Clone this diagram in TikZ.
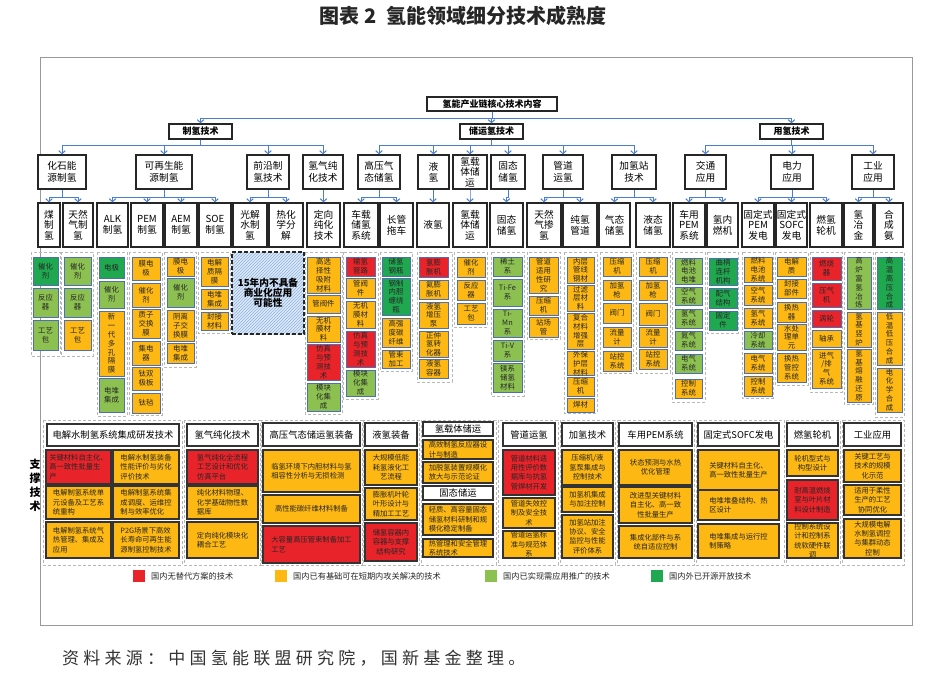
\documentclass[tikz,border=0pt]{standalone}
\usepackage{fontspec}
\setmainfont{Noto Sans CJK SC}
\usetikzlibrary{arrows.meta,patterns}
\definecolor{cR}{HTML}{E8242A}
\definecolor{cO}{HTML}{FDB813}
\definecolor{cG}{HTML}{8CC152}
\definecolor{cD}{HTML}{1FA84F}
\definecolor{cB}{HTML}{4E6FB5}
\definecolor{lnB}{HTML}{4A7DCB}
\definecolor{hatchbg}{HTML}{DCE8F5}
\definecolor{hatchln}{HTML}{8DB3E2}
\newcommand\bxx[7]{\node[#6,minimum width={#4-#2},minimum height={#5-#3}] (#1) at ({(#2+#4)/2},{(#3+#5)/2}) {#7};}
\newcommand\frm[4]{\draw[fr] (#1,#2) rectangle (#3,#4);}
\tikzset{
 lv/.style={draw=black!85,line width=1.3pt,fill=white,align=center,inner sep=0pt,font=\fontsize{9.7}{10.6}\selectfont},
 lt/.style={lv,font=\fontsize{9.7}{11.5}\selectfont},
 hd/.style={lv,font=\bfseries\fontsize{9}{11}\selectfont},
 ar/.style={draw=lnB,line width=1pt,-{Straight Barb[length=3pt,width=6.5pt]}},
 cl/.style={draw=cB,line width=0.9pt,align=center,inner sep=0pt,text=black!85,font=\fontsize{7.4}{8.8}\selectfont},
 cr/.style={cl,fill=cR}, co/.style={cl,fill=cO}, cg/.style={cl,fill=cG}, cd/.style={cl,fill=cD},
 fr/.style={draw=black!28,line width=0.9pt,dash pattern=on 3pt off 2pt},
 bc/.style={draw=black!80,line width=1.1pt,inner sep=0pt,text=black!85,font=\fontsize{7.3}{9.4}\selectfont},
 br/.style={bc,fill=cR,align=left}, bo/.style={bc,fill=cO,align=left},
 brc/.style={bc,fill=cR,align=center}, boc/.style={bc,fill=cO,align=center},
 bh/.style={draw=black!80,line width=1.1pt,fill=white,inner sep=0pt,font=\fontsize{9.3}{11}\selectfont},
 lgsq/.style={minimum width=12,minimum height=12,inner sep=0pt,draw=none},
 lgt/.style={anchor=west,inner sep=0pt,font=\fontsize{8.2}{10}\selectfont,text=black!85},
}
\begin{document}
\begin{tikzpicture}[x=1pt,y=-1pt]
\useasboundingbox (0,0) rectangle (928,680);
\fill[white] (0,0) rectangle (928,680);
\node[font=\bfseries\fontsize{20}{22}\selectfont,text=black!85] (title) at (463,16) {图表 2\hspace{0.5em}氢能领域细分技术成熟度};
\draw[black!40,line width=0.8pt] (40,57) rectangle (912,625);
\node[anchor=west,inner sep=0pt,font=\fontsize{17}{20}\selectfont\addfontfeature{LetterSpace=25},text=black!80] (src) at (62,658) {资料来源：中国氢能联盟研究院，国新基金整理。};

% ---------- top levels
\bxx{root}{427}{97}{557}{111}{hd}{氢能产业链核心技术内容}
\bxx{zq}{169}{124}{232}{139}{hd}{制氢技术}
\bxx{cy}{460}{124}{523}{139}{hd}{储运氢技术}
\bxx{yq}{760}{124}{823}{139}{hd}{用氢技术}
\draw[ar] (root.south) -- ++(0,7) -| (zq.north);
\draw[ar] (root.south) -- ++(0,7) -| (cy.north);
\draw[ar] (root.south) -- ++(0,7) -| (yq.north);

% ---------- level 2
\bxx{p1}{38}{155}{86}{189}{lt}{化石能\\源制氢}
\bxx{p2}{136}{155}{192}{189}{lt}{可再生能\\源制氢}
\bxx{p3}{247}{155}{289}{189}{lt}{前沿制\\氢技术}
\bxx{p4}{303}{155}{343}{189}{lt}{氢气纯\\化技术}
\bxx{p5}{358}{155}{400}{189}{lt}{高压气\\态储氢}
\bxx{p6}{418}{155}{449}{189}{lt}{液\\氢}
\bxx{p7}{453}{155}{487}{189}{lv}{氢载\\体储\\运}
\bxx{p8}{491}{155}{525}{189}{lt}{固态\\储氢}
\bxx{p9}{543}{155}{583}{189}{lt}{管道\\运氢}
\bxx{p10}{612}{155}{656}{189}{lt}{加氢站\\技术}
\bxx{p11}{685}{155}{726}{189}{lt}{交通\\应用}
\bxx{p12}{771}{155}{813}{189}{lt}{电力\\应用}
\bxx{p13}{852}{155}{894}{189}{lt}{工业\\应用}
\foreach \c in {p1,p2,p3,p4} \draw[ar] (zq.south) -- ++(0,6) -| (\c.north);
\foreach \c in {p5,p6,p7,p8,p9,p10} \draw[ar] (cy.south) -- ++(0,6) -| (\c.north);
\foreach \c in {p11,p12,p13} \draw[ar] (yq.south) -- ++(0,6) -| (\c.north);

% ---------- level 3
\bxx{q1}{38}{203}{60}{247}{lv}{煤\\制\\氢}
\bxx{q2}{63}{203}{93}{247}{lv}{天然\\气制\\氢}
\bxx{q3}{97}{203}{128}{247}{lv}{ALK\\制氢}
\bxx{q4}{131}{203}{163}{247}{lv}{PEM\\制氢}
\bxx{q5}{165}{203}{197}{247}{lv}{AEM\\制氢}
\bxx{q6}{199}{203}{231}{247}{lv}{SOE\\制氢}
\bxx{q7}{233}{203}{267}{247}{lv}{光解\\水制\\氢}
\bxx{q8}{269}{203}{303}{247}{lv}{热化\\学分\\解}
\bxx{q9}{307}{203}{340}{247}{lv}{定向\\纯化\\技术}
\bxx{q10}{344}{203}{378}{247}{lv}{车载\\储氢\\系统}
\bxx{q11}{380}{203}{413}{247}{lv}{长管\\拖车}
\bxx{q12}{417}{203}{449}{247}{lv}{液氢}
\bxx{q13}{453}{203}{487}{247}{lv}{氢载\\体储\\运}
\bxx{q14}{490}{203}{523}{247}{lv}{固态\\储氢}
\bxx{q15}{527}{203}{561}{247}{lv}{天然\\气掺\\氢}
\bxx{q16}{563}{203}{597}{247}{lv}{纯氢\\管道}
\bxx{q17}{599}{203}{630}{247}{lv}{气态\\储氢}
\bxx{q18}{636}{203}{670}{247}{lv}{液态\\储氢}
\bxx{q19}{673}{203}{705}{247}{lv}{车用\\PEM\\系统}
\bxx{q20}{707}{203}{738}{247}{lv}{氢内\\燃机}
\bxx{q21}{742}{203}{774}{247}{lv}{固定式\\PEM\\发电}
\bxx{q22}{776}{203}{807}{247}{lv}{固定式\\SOFC\\发电}
\bxx{q23}{810}{203}{842}{247}{lv}{燃氢\\轮机}
\bxx{q24}{844}{203}{873}{247}{lv}{氢\\冶\\金}
\bxx{q25}{875}{203}{903}{247}{lv}{合\\成\\氨}
\foreach \p/\c in {p1/q1,p1/q2,p2/q3,p2/q4,p2/q5,p2/q6,p3/q7,p3/q8,p4/q9,p5/q10,p5/q11,p6/q12,p7/q13,p8/q14,p9/q15,p9/q16,p10/q17,p10/q18,p11/q19,p11/q20,p12/q21,p12/q22,p12/q23,p13/q24,p13/q25}
  \draw[ar] (\p.south) -- ++(0,8) -| (\c.north);

% ---------- detail columns
\frm{31}{252}{60}{356}
\bxx{a1}{33}{257}{58}{285}{cd}{催化\\剂}
\bxx{a2}{33}{288}{58}{317}{cg}{反应\\器}
\bxx{a3}{33}{320}{58}{350}{cg}{工艺\\包}
\frm{61}{252}{93}{356}
\bxx{b1}{64}{257}{91}{285}{cg}{催化\\剂}
\bxx{b2}{64}{288}{91}{317}{cg}{反应\\器}
\bxx{b3}{64}{320}{91}{350}{co}{工艺\\包}
\frm{97}{252}{127}{416}
\bxx{c1}{99}{257}{124}{278}{cd}{电极}
\bxx{c2}{99}{281}{124}{308}{cg}{催化\\剂}
\bxx{c3}{99}{311}{124}{376}{co}{新\\一\\代\\多\\孔\\隔\\膜}
\bxx{c4}{99}{378}{124}{412}{cg}{电堆\\集成}
\frm{129}{252}{162}{415}
\bxx{d1}{132}{257}{160}{280}{co}{膜电\\极}
\bxx{d2}{132}{283}{160}{307}{co}{催化\\剂}
\bxx{d3}{132}{309}{160}{338}{co}{质子\\交换\\膜}
\bxx{d4}{132}{341}{160}{365}{co}{集电\\器}
\bxx{d5}{132}{367}{160}{390}{co}{钛双\\极板}
\bxx{d6}{132}{393}{160}{413}{co}{钛毡}
\frm{164}{252}{196}{367}
\bxx{e1}{167}{257}{194}{276}{co}{膜电\\极}
\bxx{e2}{167}{278}{194}{307}{cg}{催化\\剂}
\bxx{e3}{167}{310}{194}{341}{co}{阴离\\子交\\换膜}
\bxx{e4}{167}{343}{194}{363}{co}{电堆\\集成}
\frm{198}{252}{230}{333}
\bxx{f1}{201}{257}{228}{286}{co}{电解\\质隔\\膜}
\bxx{f2}{201}{289}{228}{309}{co}{电堆\\集成}
\bxx{f3}{201}{312}{228}{330}{co}{封接\\材料}
\node[draw=black!85,line width=1.4pt,dash pattern=on 4pt off 2pt,preaction={fill=hatchbg},pattern=north east lines,pattern color=hatchln,minimum width=72,minimum height=82,inner sep=0pt,align=center,font=\bfseries\fontsize{9.7}{10.2}\selectfont] (hatch) at (268,293) {15年内不具备\\商业化应用\\可能性};
\frm{305}{252}{342}{414}
\bxx{g1}{307}{257}{340}{293}{co}{高选\\择性\\吸附\\材料}
\bxx{g2}{307}{295}{340}{313}{co}{管阀件}
\bxx{g3}{307}{316}{340}{342}{co}{无机\\膜材\\料}
\bxx{g4}{307}{344}{340}{380}{cr}{仿真\\与预\\测技\\术}
\bxx{g5}{307}{383}{340}{411}{cg}{模块\\化集\\成}
\frm{343}{252}{378}{399}
\bxx{h1}{346}{257}{375}{276}{cr}{输氢\\管路}
\bxx{h2}{346}{278}{375}{298}{co}{管阀\\件}
\bxx{h3}{346}{301}{375}{328}{co}{无机\\膜材\\料}
\bxx{h4}{346}{331}{375}{367}{cr}{仿真\\与预\\测技\\术}
\bxx{h5}{346}{370}{375}{396}{cg}{模块\\化集\\成}
\frm{380}{252}{412}{371}
\bxx{i1}{382}{257}{410}{276}{cd}{储氢\\钢瓶}
\bxx{i2}{382}{278}{410}{315}{cd}{钢制\\内胆\\缠绕\\瓶}
\bxx{i3}{382}{318}{410}{347}{co}{高强\\度碳\\纤维}
\bxx{i4}{382}{350}{410}{368}{co}{管束\\加工}
\frm{417}{252}{452}{382}
\bxx{j1}{419}{257}{448}{277}{cr}{氢膨\\胀机}
\bxx{j2}{419}{280}{448}{299}{co}{氦膨\\胀机}
\bxx{j3}{419}{302}{448}{328}{co}{液氢\\增压\\泵}
\bxx{j4}{419}{331}{448}{357}{co}{正仲\\氢转\\化器}
\bxx{j5}{419}{359}{448}{378}{co}{液氢\\容器}
\frm{454}{252}{487}{327}
\bxx{k1}{457}{257}{485}{277}{co}{催化\\剂}
\bxx{k2}{457}{280}{485}{300}{co}{反应\\器}
\bxx{k3}{457}{303}{485}{324}{co}{工艺\\包}
\frm{491}{252}{524}{396}
\bxx{l1}{493}{257}{522}{276}{cg}{稀土\\系}
\bxx{l2}{493}{279}{522}{306}{cg}{Ti-Fe\\系}
\bxx{l3}{493}{309}{522}{337}{cg}{Ti-\\Mn\\系}
\bxx{l4}{493}{340}{522}{361}{cg}{Ti-V\\系}
\bxx{l5}{493}{363}{522}{392}{cg}{镁系\\储氢\\材料}
\frm{527}{252}{560}{339}
\bxx{m1}{529}{257}{558}{293}{co}{管道\\适用\\性研\\究}
\bxx{m2}{529}{296}{558}{315}{co}{压缩\\机}
\bxx{m3}{529}{317}{558}{337}{co}{站场\\管}
\frm{564}{252}{597}{413}
\bxx{n1}{567}{257}{594}{283}{co}{内层\\管线\\钢材}
\bxx{n2}{567}{285}{594}{311}{co}{过滤\\层材\\料}
\bxx{n3}{567}{313}{594}{349}{co}{复合\\材料\\增强\\层}
\bxx{n4}{567}{352}{594}{375}{co}{外保\\护层\\材料}
\bxx{n5}{567}{377}{594}{396}{co}{压缩\\机}
\bxx{n6}{567}{398}{594}{412}{co}{焊材}
\frm{600}{252}{633}{373}
\bxx{o1}{603}{257}{631}{276}{co}{压缩\\机}
\bxx{o2}{603}{280}{631}{300}{co}{加氢\\枪}
\bxx{o3}{603}{303}{631}{323}{co}{阀门}
\bxx{o4}{603}{327}{631}{347}{co}{流量\\计}
\bxx{o5}{603}{351}{631}{371}{co}{站控\\系统}
\frm{636}{252}{670}{373}
\bxx{r1}{639}{257}{667}{276}{co}{压缩\\机}
\bxx{r2}{639}{280}{667}{300}{co}{加氢\\枪}
\bxx{r3}{639}{303}{667}{325}{co}{阀门}
\bxx{r4}{639}{327}{667}{347}{co}{流量\\计}
\bxx{r5}{639}{349}{667}{369}{co}{站控\\系统}
\frm{672}{252}{705}{402}
\bxx{s1}{675}{258}{702}{284}{cg}{燃料\\电池\\电堆}
\bxx{s2}{675}{287}{702}{305}{cg}{空气\\系统}
\bxx{s3}{675}{309}{702}{328}{cg}{氢气\\系统}
\bxx{s4}{675}{331}{702}{350}{cg}{氮气\\系统}
\bxx{s5}{675}{354}{702}{373}{cg}{电气\\系统}
\bxx{s6}{675}{379}{702}{398}{co}{控制\\系统}
\frm{707}{252}{738}{333}
\bxx{t1}{709}{258}{737}{285}{cd}{曲柄\\连杆\\机构}
\bxx{t2}{709}{288}{737}{308}{cd}{配气\\结构}
\bxx{t3}{709}{311}{737}{330}{cd}{固定\\件}
\frm{742}{252}{773}{398}
\bxx{u1}{744}{257}{772}{282}{co}{燃料\\电池\\系统}
\bxx{u2}{744}{285}{772}{305}{co}{空气\\系统}
\bxx{u3}{744}{308}{772}{328}{co}{氢气\\系统}
\bxx{u4}{744}{331}{772}{349}{cg}{冷却\\系统}
\bxx{u5}{744}{353}{772}{373}{co}{电气\\系统}
\bxx{u6}{744}{376}{772}{396}{co}{控制\\系统}
\frm{775}{252}{808}{385}
\bxx{v1}{777}{257}{806}{276}{co}{电解\\质}
\bxx{v2}{777}{279}{806}{298}{co}{封接\\部件}
\bxx{v3}{777}{302}{806}{322}{co}{换热\\器}
\bxx{v4}{777}{324}{806}{350}{co}{水处\\理单\\元}
\bxx{v5}{777}{353}{806}{382}{co}{换热\\管控\\系统}
\frm{810}{252}{842}{392}
\bxx{w1}{812}{257}{841}{280}{cr}{燃烧\\器}
\bxx{w2}{812}{283}{841}{307}{cr}{压气\\机}
\bxx{w3}{812}{310}{841}{327}{cr}{涡轮}
\bxx{w4}{812}{330}{841}{347}{co}{轴承}
\bxx{w5}{812}{349}{841}{388}{co}{进气\\/排\\气\\系统}
\frm{844}{252}{873}{404}
\bxx{y1}{847}{257}{871}{309}{cg}{高\\炉\\富\\氢\\冶\\炼}
\bxx{y2}{847}{312}{871}{347}{co}{氢\\基\\竖\\炉}
\bxx{y3}{847}{349}{871}{402}{co}{氢\\基\\熔\\融\\还\\原}
\frm{875}{252}{904}{417}
\bxx{z1}{877}{257}{902}{309}{cd}{高\\温\\高\\压\\合\\成}
\bxx{z2}{877}{312}{902}{365}{co}{低\\温\\低\\压\\合\\成}
\bxx{z3}{877}{368}{902}{412}{co}{电\\化\\学\\合\\成}

% ---------- supporting technologies
\node[font=\bfseries\fontsize{11}{14}\selectfont,align=center,inner sep=0pt] (zc) at (35,485) {支\\撑\\技\\术};
\frm{43}{420}{182}{565}
\bxx{G1h}{47}{424}{179}{446}{bh}{电解水制氢系统集成研发技术}
\bxx{G1a}{46}{450}{111}{484}{br}{关键材料自主化、\\高一致性批量生\\产}
\bxx{G1b}{113}{450}{179}{484}{bo}{电解水制氢装备\\性能评价与劣化\\评价技术}
\bxx{G1c}{46}{486}{111}{519}{bo}{电解制氢系统单\\元设备及工艺系\\统重构}
\bxx{G1d}{113}{486}{179}{519}{bo}{电解制氢系统集\\成调度、运维控\\制与效率优化}
\bxx{G1e}{46}{522}{111}{558}{bo}{电解制氢系统气\\热管理、集成及\\应用}
\bxx{G1f}{113}{522}{179}{558}{bo}{P2G场景下高效\\长寿命可再生能\\源制氢控制技术}
\frm{184}{420}{260}{565}
\bxx{G2h}{187}{424}{258}{446}{bh}{氢气纯化技术}
\bxx{G2a}{187}{450}{258}{484}{br}{氢气纯化全流程\\工艺设计和优化\\仿真平台}
\bxx{G2b}{187}{486}{258}{519}{bo}{纯化材料物理、\\化学基础物性数\\据库}
\bxx{G2c}{187}{522}{258}{558}{bo}{定向纯化模块化\\耦合工艺}
\frm{261}{420}{362}{565}
\bxx{G3h}{263}{423}{360}{446}{bh}{高压气态储运氢装备}
\bxx{G3a}{263}{450}{360}{492}{bo}{临氢环境下内胆材料与氢\\相容性分析与无损检测}
\bxx{G3b}{263}{495}{360}{523}{bo}{高性能碳纤维材料制备}
\bxx{G3c}{263}{526}{360}{563}{br}{大容量高压管束制备加工\\工艺}
\frm{363}{420}{419}{565}
\bxx{G4h}{365}{423}{417}{446}{bh}{液氢装备}
\bxx{G4a}{365}{450}{417}{485}{boc}{大规模低能\\耗氢液化工\\艺流程}
\bxx{G4b}{365}{488}{417}{520}{boc}{膨胀机叶轮\\叶形设计与\\精加工工艺}
\bxx{G4c}{365}{523}{417}{561}{brc}{储氢容器内\\容器与支撑\\结构研究}
\frm{421}{420}{496}{565}
\bxx{G5h}{423}{422}{493}{436}{bh}{氢载体储运}
\bxx{G5a}{423}{440}{493}{459}{bo}{高效制氢反应器设\\计与制造}
\bxx{G5b}{423}{462}{493}{483}{bo}{加脱氢装置规模化\\放大与示范论证}
\bxx{G5g}{423}{486}{493}{500}{bh}{固态储运}
\bxx{G5c}{423}{504}{493}{535}{bo}{轻质、高容量固态\\储氢材料研制和规\\模化稳定制备}
\bxx{G5d}{423}{539}{493}{557}{bo}{热管理和安全管理\\系统技术}
\frm{498}{420}{558}{565}
\bxx{G6h}{503}{423}{555}{446}{bh}{管道运氢}
\bxx{G6a}{503}{450}{555}{495}{brc}{管道材料适\\用性评价数\\据库与抗氢\\管焊材开发}
\bxx{G6b}{503}{498}{555}{528}{boc}{管道失效控\\制及安全技\\术}
\bxx{G6c}{503}{531}{555}{558}{boc}{管道运氢标\\准与规范体\\系}
\frm{560}{420}{615}{565}
\bxx{G7h}{562}{423}{613}{446}{bh}{加氢技术}
\bxx{G7a}{562}{450}{613}{485}{boc}{压缩机/液\\氢泵集成与\\控制技术}
\bxx{G7b}{562}{487}{613}{512}{boc}{加氢机集成\\与加注控制}
\bxx{G7c}{562}{515}{613}{558}{boc}{加氢站加注\\协议、安全\\监控与性能\\评价体系}
\frm{617}{420}{694}{565}
\bxx{G8h}{619}{423}{692}{446}{bh}{车用PEM系统}
\bxx{G8a}{619}{450}{692}{485}{boc}{状态预测与水热\\优化管理}
\bxx{G8b}{619}{487}{692}{523}{boc}{改进型关键材料\\自主化、高一致\\性批量生产}
\bxx{G8c}{619}{526}{692}{558}{boc}{集成化部件与系\\统自适应控制}
\frm{696}{420}{784}{565}
\bxx{G9h}{698}{423}{779}{446}{bh}{固定式SOFC发电}
\bxx{G9a}{698}{450}{779}{490}{bo}{关键材料自主化、\\高一致性批量生产}
\bxx{G9b}{698}{490}{779}{520}{bo}{电堆堆叠结构、热\\区设计}
\bxx{G9c}{698}{524}{779}{558}{bo}{电堆集成与运行控\\制策略}
\frm{786}{420}{840}{565}
\bxx{G10h}{787}{423}{838}{446}{bh}{燃氢轮机}
\bxx{G10a}{787}{450}{838}{476}{boc}{轮机型式与\\构型设计}
\bxx{G10b}{787}{480}{838}{520}{brc}{耐高温燃烧\\室与叶片材\\料设计制造}
\bxx{G10c}{787}{523}{838}{558}{boc}{控制系统设\\计和控制系\\统软硬件联\\调}
\frm{842}{420}{904}{565}
\bxx{G11h}{844}{423}{901}{446}{bh}{工业应用}
\bxx{G11a}{844}{450}{901}{482}{boc}{关键工艺与\\技术的规模\\化示范}
\bxx{G11b}{844}{485}{901}{515}{boc}{适用于柔性\\生产的工艺\\协同优化}
\bxx{G11c}{844}{519}{901}{558}{boc}{大规模电解\\水制氢调控\\与集群动态\\控制}

% ---------- legend
\node[lgsq,fill=cR] (lg1) at (139,576) {};
\node[lgt] (lt1) at (151,576) {国内无替代方案的技术};
\node[lgsq,fill=cO] (lg2) at (281,576) {};
\node[lgt] (lt2) at (293,576) {国内已有基础可在短期内攻关解决的技术};
\node[lgsq,fill=cG] (lg3) at (491,576) {};
\node[lgt] (lt3) at (503,576) {国内已实现需应用推广的技术};
\node[lgsq,fill=cD] (lg4) at (657,576) {};
\node[lgt] (lt4) at (669,576) {国内外已开源开放技术};
\end{tikzpicture}
\end{document}
